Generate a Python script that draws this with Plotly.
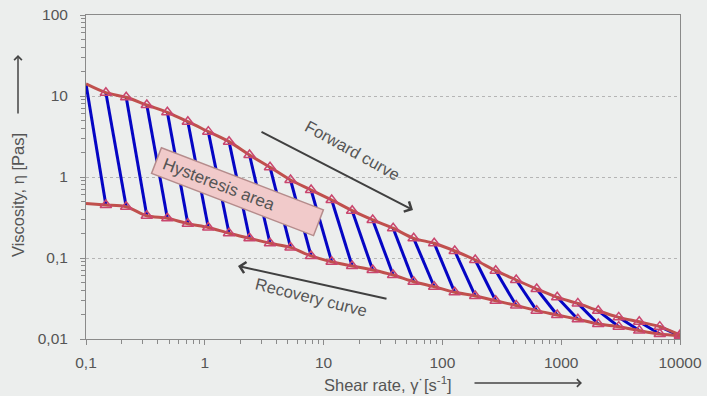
import plotly.graph_objects as go

# ---- data ----
shear_rate = [0.147, 0.218, 0.325, 0.484, 0.72, 1.07, 1.6, 2.38, 3.54, 5.27,
              7.85, 11.7, 17.4, 25.9, 38.5, 57.3, 85.3, 127, 189, 281,
              418, 622, 926, 1380, 2050, 3050, 4540, 6760, 10000]
forward_visc = [10.99, 9.64, 7.74, 6.29, 4.82, 3.63, 2.73, 1.87, 1.32, 0.918,
                0.691, 0.52, 0.384, 0.295, 0.233, 0.175, 0.152, 0.122, 0.0945, 0.0697,
                0.0535, 0.0414, 0.0327, 0.0275, 0.0223, 0.0185, 0.0163, 0.0142, 0.0112]
recovery_visc = [0.451, 0.43, 0.332, 0.309, 0.265, 0.238, 0.202, 0.175, 0.152, 0.135,
                 0.106, 0.09, 0.0796, 0.0711, 0.0617, 0.051, 0.0442, 0.0377, 0.034, 0.0297,
                 0.0259, 0.0224, 0.0198, 0.0175, 0.0153, 0.0142, 0.0127, 0.0115, 0.0109]
# curve start values at shear rate 0.1
line_start_x = 0.1
forward_start = 14.1
recovery_start = 0.47

x_tickvals = [0.1, 1, 10, 100, 1000, 10000]
x_ticktext = ["0,1", "1", "10", "100", "1000", "10000"]
y_tickvals = [0.01, 0.1, 1, 10, 100]
y_ticktext = ["0,01", "0,1", "1", "10", "100"]

# ---- styling ----
BG = "#eceeed"
RED = "#c0504d"
MARK = "#c9466e"
BLUE = "#0505c4"
TXT = "#555555"
FONT = "Liberation Sans, Arial, sans-serif"

fig = go.Figure()

# hatching: from forward curve point k to recovery curve point k+1
fx = [line_start_x] + shear_rate
fy = [forward_start] + forward_visc
hx, hy = [], []
for k in range(len(shear_rate)):
    hx += [fx[k], shear_rate[k], None]
    hy += [fy[k], recovery_visc[k], None]
fig.add_trace(go.Scatter(x=hx, y=hy, mode="lines",
                         line=dict(color=BLUE, width=3), hoverinfo="skip",
                         showlegend=False))

# red curves
fig.add_trace(go.Scatter(x=[line_start_x] + shear_rate, y=[forward_start] + forward_visc,
                         mode="lines", line=dict(color=RED, width=3, shape="spline", smoothing=0.8),
                         showlegend=False))
fig.add_trace(go.Scatter(x=[line_start_x] + shear_rate, y=[recovery_start] + recovery_visc,
                         mode="lines", line=dict(color=RED, width=3, shape="spline", smoothing=0.8),
                         showlegend=False))
# markers
for yy in (forward_visc, recovery_visc):
    fig.add_trace(go.Scatter(x=shear_rate, y=yy, mode="markers",
                             marker=dict(symbol="triangle-up-open", size=10, color=MARK,
                                         line=dict(width=1.5, color=MARK)),
                             showlegend=False))

minor_vals = [m * 10 ** e for e in range(-2, 4) for m in range(2, 10)]

fig.update_layout(
    width=707, height=396,
    margin=dict(l=86, r=27, t=15, b=57),
    paper_bgcolor=BG, plot_bgcolor=BG,
    font=dict(family=FONT, color=TXT, size=15),
    xaxis=dict(type="log", range=[-1, 4], tickvals=x_tickvals, ticktext=x_ticktext,
               automargin=False,
               showgrid=False, zeroline=False, showline=True, linecolor="#8a8a8a",
               linewidth=1, mirror=True, ticks="outside", ticklen=5, tickcolor="#8a8a8a",
               tickfont=dict(size=15.5, color=TXT), ticklabelstandoff=4,
               minor=dict(tickvals=[v for v in minor_vals if 0.1 < v < 10000],
                          ticks="outside", ticklen=4, tickcolor="#8a8a8a", showgrid=False)),
    yaxis=dict(type="log", range=[-2, 2], tickvals=y_tickvals, ticktext=y_ticktext,
               automargin=False,
               showgrid=True, gridcolor="#b5b5b5", griddash="dot", gridwidth=1,
               zeroline=False, showline=True, linecolor="#8a8a8a",
               linewidth=1, mirror=True, ticks="outside", ticklen=5, tickcolor="#8a8a8a",
               tickfont=dict(size=15.5, color=TXT), ticklabelstandoff=9,
               minor=dict(tickvals=[v for v in minor_vals if 0.01 < v < 100],
                          ticks="outside", ticklen=4, tickcolor="#8a8a8a", showgrid=False)),
)

def px_to_paper(px, py):
    return (px - 86) / 594, (339 - py) / 324

def label(px, py, text, angle=0, **kw):
    x0, y0 = px_to_paper(px, py)
    d = dict(x=x0, y=y0, xref="paper", yref="paper", showarrow=False, text=text,
             textangle=angle, xanchor="center", yanchor="middle",
             font=dict(size=16.5, color=TXT))
    d.update(kw)
    return d

def arrow(tail, head, width=2, color="#404040", size=1.1):
    x0, y0 = px_to_paper(*head)
    return dict(x=x0, y=y0, xref="paper", yref="paper", showarrow=True, text="",
                ax=tail[0] - head[0], ay=tail[1] - head[1], arrowhead=4,
                arrowsize=size, arrowwidth=width, arrowcolor=color)

ann = [
    label(237, 191.5, "\u00a0Hysteresis area", 21, width=168, height=22, align="left",
          bgcolor="#f1caca", bordercolor="#b58c8c", borderwidth=1.5, borderpad=2,
          font=dict(size=17, color=TXT)),
    label(352, 150, "Forward curve", 29),
    arrow((260, 131), (413, 210)),
    label(311, 297, "Recovery curve", 14),
    arrow((388, 299), (238, 266)),
    label(18, 195, "Viscosity, η [Pas]", -90),
    arrow((18, 115), (18, 55), width=1.5, color="#444444", size=1),
    label(388, 384, "Shear rate, γ\u02d9[s<sup>-1</sup>]"),
    arrow((473, 383), (582, 383), width=1.5, color="#444444", size=1),
]

fig.update_layout(annotations=ann)
fig.write_html("out.html", config={"displayModeBar": False},
               post_script="document.body.style.margin='0px';")
